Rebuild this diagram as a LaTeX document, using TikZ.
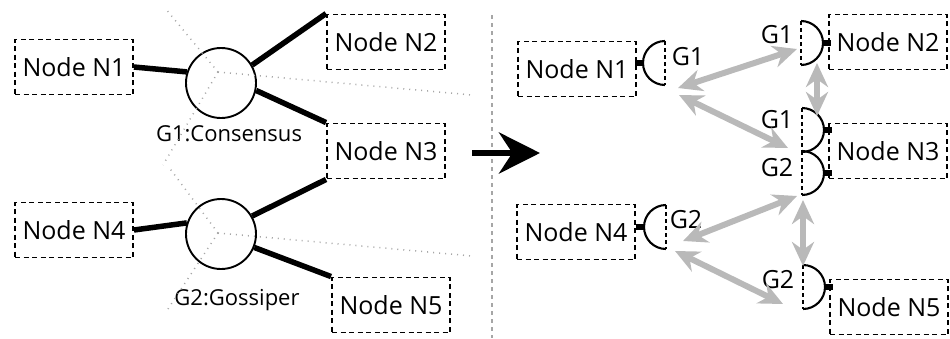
\documentclass[tikz,border=0pt]{standalone}
\usepackage{fontspec}
\setmainfont{Open Sans}
\usetikzlibrary{arrows.meta}

\begin{document}
\begin{tikzpicture}[
    x=1pt, y=-1pt,
    font=\fontsize{25}{28}\selectfont,
    host/.style={draw, line width=1.9pt, dash pattern=on 5pt off 3.5pt, minimum width=118pt, minimum height=55pt, inner sep=0pt},
    group/.style={draw, circle, line width=1.9pt, minimum size=70pt},
    link/.style={line width=5.5pt},
    view/.style={gray!70, line width=1.5pt, dash pattern=on 1pt off 5pt},
    msg/.style={{Stealth[length=24pt,width=22pt]}-{Stealth[length=24pt,width=22pt]}, line width=6pt, gray!55},
    gate/.style={line width=2.1pt}
]
\useasboundingbox (0,0) rectangle (950,338);

% Before: hosts and groups
\node[host] (n1) at (74,67) {Node N1};
\node[host] (n2) at (386,42) {Node N2};
\node[host] (n3) at (386,151) {Node N3};
\node[host] (n4) at (74,230) {Node N4};
\node[host] (n5) at (391,305) {Node N5};

\node[group] (c1) at (221,83) {};
\node[group] (c2) at (221,234) {};
\node[font=\fontsize{22}{26}\selectfont] (l1) at (229,134) {G1:Consensus};
\node[font=\fontsize{22}{26}\selectfont] (l2) at (237,300) {G2:Gossiper};

% Dotted view lines
\coordinate (h1) at (218,72);
\coordinate (h2) at (218,233);
\coordinate (h1a) at (165,8);
\coordinate (h1b) at (163,165);
\coordinate (h1c) at (472,95);
\coordinate (h2a) at (168,166);
\coordinate (h2b) at (166,312);
\coordinate (h2c) at (472,256);
\foreach \x in {h1a,h1b,h1c} {
    \draw[view] (h1) -- (\x);
}
\foreach \x in {h2a,h2b,h2c} {
    \draw[view] (h2) -- (\x);
}

\draw[link] (n1.east) -- (c1.162);
\draw[link] (c1.30) -- (n2.north west);
\draw[link] (c1.-12) -- (n3.north west);
\draw[link] (n4.east) -- (c2.162);
\draw[link] (c2.30) -- (n3.south west);
\draw[link] (c2.-22) -- (n5.north west);

% Separator and transform arrow
\coordinate (s1) at (492,15);
\coordinate (s2) at (492,338);
\draw[gray!70, line width=1.5pt, dash pattern=on 4pt off 4pt] (s1) -- (s2);
\coordinate (a1) at (472,153);
\coordinate (a2) at (540,153);
\draw[line width=6pt, -{Stealth[length=41pt,width=41pt]}] (a1) -- (a2);

% After: hosts with gates
\node[host] (m1) at (577,69) {Node N1};
\node[host] (m2) at (888,42) {Node N2};
\node[host] (m3) at (888,151) {Node N3};
\node[host] (m4) at (576,232) {Node N4};
\node[host] (m5) at (889,307) {Node N5};

\foreach \gx/\gy/\gs in {665/63/1, 801/43/-1, 802/130/-1, 802/173/-1, 666/227/1, 803/287/-1} {
    \draw[gate] (\gx,\gy-22) arc[start angle=90, delta angle=\gs*180, radius=22pt];
    \draw[gate, dash pattern=on 4pt off 3pt] (\gx,\gy-22) -- (\gx,\gy+22);
    \draw[link] (\gx-\gs*22,\gy) -- ++(-\gs*8,0);
}

\node (g1) at (688,57) {G1};
\node (g2) at (777,35) {G1};
\node (g3) at (777,120) {G1};
\node (g4) at (777,168) {G2};
\node (g5) at (686,220) {G2};
\node (g6) at (778,280) {G2};

% Messages
\coordinate (p1) at (678,88);
\coordinate (p2) at (797,49);
\coordinate (p3) at (679,95);
\coordinate (p4) at (788,148);
\coordinate (p5) at (817,63);
\coordinate (p6) at (817,116);
\coordinate (q1) at (683,241);
\coordinate (q2) at (797,196);
\coordinate (q3) at (675,251);
\coordinate (q4) at (783,304);
\coordinate (q5) at (803,200);
\coordinate (q6) at (803,266);
\foreach \a/\b in {p1/p2,p3/p4,p5/p6,q1/q2,q3/q4,q5/q6} {
    \draw[msg] (\a) -- (\b);
}

\end{tikzpicture}
\end{document}
